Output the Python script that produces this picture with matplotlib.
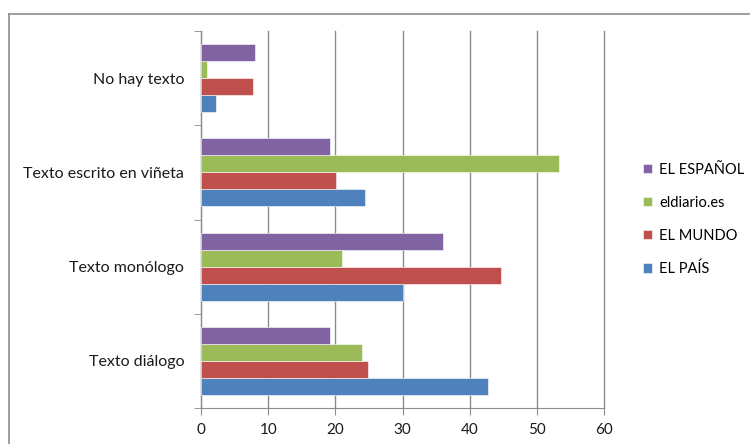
import numpy as np
import matplotlib
matplotlib.use("Agg")
import matplotlib.pyplot as plt
from matplotlib.lines import Line2D

plt.rcParams['font.family'] = ['Lato', 'DejaVu Sans']

# Categories, bottom to top
categories = ['Texto diálogo', 'Texto monólogo', 'Texto escrito en viñeta', 'No hay texto']

# Series values (same category order)
el_pais = [42.8, 30.0, 24.4, 2.2]
el_mundo = [24.8, 44.7, 20.1, 7.7]
eldiario = [24.0, 21.0, 53.3, 0.9]
el_espanol = [19.2, 36.1, 19.2, 8.0]

series_names = ['EL PAÍS', 'EL MUNDO', 'eldiario.es', 'EL ESPAÑOL']
series_values = [el_pais, el_mundo, eldiario, el_espanol]
colors = ['#4F81BD', '#C0504D', '#9BBB59', '#8064A2']

fig = plt.figure(figsize=(7.5, 4.44), dpi=100)
ax = fig.add_axes([201 / 750, 36 / 444, 403 / 750, 377 / 444])

y = np.arange(len(categories))
h = 0.18
offsets = (np.arange(4) - 1.5) * h
handles = []
for name, vals, col, off in zip(series_names, series_values, colors, offsets):
    b = ax.barh(y + off, vals, height=h, color=col, edgecolor='white', linewidth=0.4, label=name, zorder=3)
    handles.append(b)

ax.set_xlim(0, 60)
ax.set_ylim(-0.5, len(categories) - 0.5)
ax.set_xticks(np.arange(0, 61, 10))
ax.xaxis.grid(True, color='#8c8c8c', linewidth=1.0, zorder=0)
for gl in ax.get_xgridlines():
    gl.set_clip_on(False)
ax.set_yticks(y)
ax.set_yticklabels(categories)
ax.set_yticks(np.arange(-0.5, len(categories), 1.0), minor=True)
ax.tick_params(axis='y', which='major', length=0, pad=12, labelsize=11.5, labelcolor='#1a1a1a')
ax.tick_params(axis='y', which='minor', length=5, color='#8c8c8c')
ax.tick_params(axis='x', length=5, color='#8c8c8c', labelsize=11, labelcolor='#1a1a1a', pad=6)
for s in ['top', 'right']:
    ax.spines[s].set_visible(False)
for s in ['left', 'bottom']:
    ax.spines[s].set_color('#8c8c8c')

leg = ax.legend(handles=handles[::-1], labels=series_names[::-1], loc='center left',
                bbox_to_anchor=(1.065, 0.5), frameon=False, fontsize=10.5,
                handlelength=0.6, handleheight=0.6, handletextpad=0.5, labelspacing=1.3)

# outer chart frame (cropped on right and bottom)
fig.add_artist(Line2D([9 / 750, 1.0], [1 - 14 / 444, 1 - 14 / 444], color='#8c8c8c', linewidth=1.2,
                      transform=fig.transFigure))
fig.add_artist(Line2D([9 / 750, 9 / 750], [0.0, 1 - 14 / 444], color='#8c8c8c', linewidth=1.2,
                      transform=fig.transFigure))

fig.savefig('out.png', dpi=100)
